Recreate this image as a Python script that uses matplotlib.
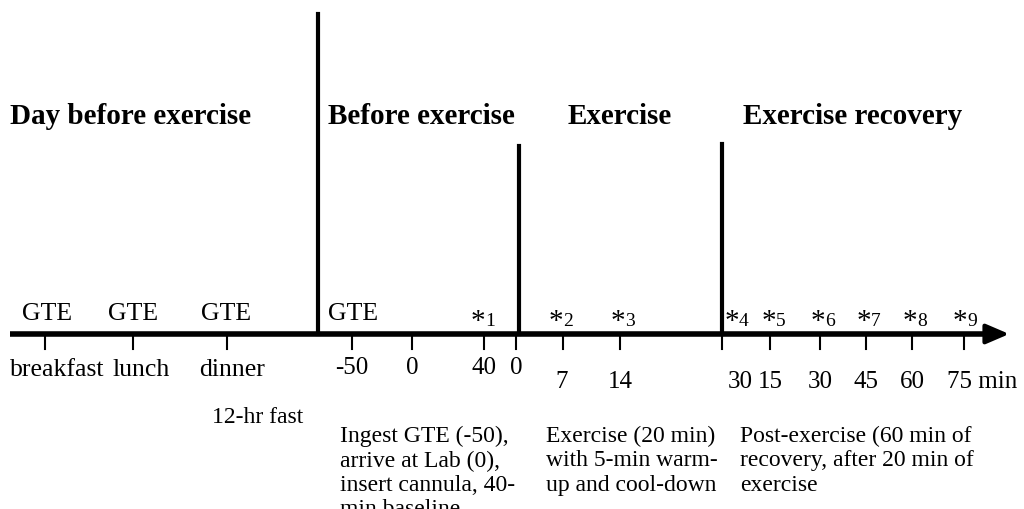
import matplotlib.pyplot as plt

plt.rcParams['font.family'] = ['Liberation Serif', 'DejaVu Serif']

# section headings (x, text)
headings = [(10, 'Day before exercise'), (328, 'Before exercise'),
            (568, 'Exercise'), (743, 'Exercise recovery')]
# dividers (x, top y)
dividers = [(318, 15), (519, 147), (722, 145)]
# GTE intake markers
gte_x = [47, 133, 226, 353]
# meal ticks
meal_x = [45, 133, 227]
meal_labels = ['breakfast', 'lunch', 'dinner']
meal_lx = [57, 141, 232]
# time ticks
tick_x = [352, 412, 484, 516, 563, 620, 722, 770, 820, 866, 912, 964]
tick_labels = ['-50', '0', '40', '0', '7', '14', '30', '15', '30', '45', '60', '75 min']
tick_ly = [368, 368, 368, 368, 382, 382, 382, 382, 382, 382, 382, 382]
tick_lx = [352, 412, 484, 516, 562, 620, 740, 770, 820, 866, 912, 982]
# sampling points
sample_x = [478, 556, 618, 732, 769, 818, 864, 910, 960]

fig = plt.figure(figsize=(10.24, 5.10), dpi=100)
ax = fig.add_axes([0, 0, 1, 1])
ax.set_xlim(0, 1024)
ax.set_ylim(510, 0)
ax.axis('off')

axis_y = 335
ax.plot([10, 995], [axis_y, axis_y], color='black', lw=4, solid_capstyle='butt')
ax.annotate('', xy=(1012, axis_y), xytext=(985, axis_y),
            arrowprops=dict(arrowstyle='-|>,head_length=1.4,head_width=0.6',
                            color='black', lw=3))

for x, t in headings:
    ax.text(x, 116, t, fontsize=21, fontweight='bold', va='center', ha='left')
for x, top in dividers:
    ax.plot([x, x], [top, axis_y], color='black', lw=3)
for x in gte_x:
    ax.text(x, 314, 'GTE', fontsize=18.5, ha='center', va='center')
for x in meal_x + tick_x:
    ax.plot([x, x], [axis_y, 350], color='black', lw=1.5)
for x, t in zip(meal_lx, meal_labels):
    ax.text(x, 370, t, fontsize=18.5, ha='center', va='center')
for x, y, t in zip(tick_lx, tick_ly, tick_labels):
    ax.text(x, y, t, fontsize=18, ha='center', va='center')
for i, x in enumerate(sample_x, 1):
    ax.text(x, 322, '*', fontsize=21, ha='center', va='center')
    ax.text(x + 7, 322, str(i), fontsize=14, ha='left', va='center')

ax.text(258, 418, '12-hr fast', fontsize=17, ha='center', va='center')
notes = [(340, 'Ingest GTE (-50),\narrive at Lab (0),\ninsert cannula, 40-\nmin baseline'),
         (546, 'Exercise (20 min)\nwith 5-min warm-\nup and cool-down'),
         (740, 'Post-exercise (60 min of\nrecovery, after 20 min of\nexercise')]
for x, t in notes:
    ax.text(x, 426, t, fontsize=17, ha='left', va='top', linespacing=1.2)

fig.savefig('out.png', dpi=100)
